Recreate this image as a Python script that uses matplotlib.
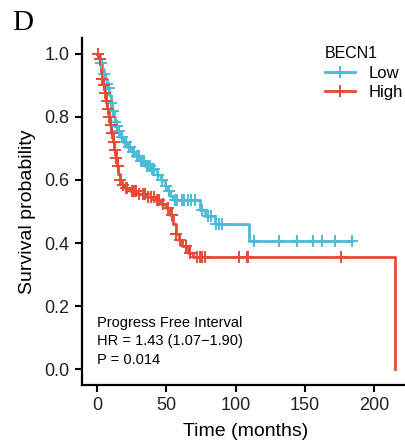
import numpy as np
import matplotlib
matplotlib.use('Agg')
import matplotlib.pyplot as plt
from matplotlib.lines import Line2D

# Kaplan-Meier step points (months, survival)
low_times = [0, 2, 3, 4, 5, 6, 7, 8, 9, 10, 11, 12, 13, 14, 15, 17, 19, 22, 25, 28,
             31, 35, 39, 43, 46, 49, 51, 53, 55, 74, 78, 85, 110]
low_surv = [1.0, 0.985, 0.97, 0.95, 0.935, 0.92, 0.905, 0.89, 0.87, 0.845, 0.82, 0.80,
            0.785, 0.77, 0.755, 0.735, 0.72, 0.705, 0.69, 0.675, 0.66, 0.645, 0.635,
            0.615, 0.60, 0.58, 0.565, 0.55, 0.535, 0.505, 0.485, 0.46, 0.408]
low_end = 184
low_censor = [1, 3, 5, 7, 8.5, 10, 11.5, 13, 14.5, 16, 18, 20, 21, 23, 24, 26, 27, 29,
              30, 32, 33, 34, 36, 37, 38, 40, 41, 44, 47, 50, 52, 56, 58, 61, 63, 66,
              68, 71, 76, 80, 82, 86, 88, 90, 113, 131, 144, 156, 162, 172, 184]

high_times = [0, 1.5, 2.5, 3, 3.5, 4.5, 5.5, 6.5, 7.5, 8.5, 9.5, 10.5, 11.5, 12.5, 13.5,
              14.5, 15.5, 16.5, 18, 20, 24, 29, 36, 42, 46, 50, 53, 55, 57, 59, 61, 66,
              69, 215]
high_surv = [1.0, 0.985, 0.965, 0.94, 0.92, 0.90, 0.875, 0.85, 0.825, 0.80, 0.775, 0.75,
             0.72, 0.695, 0.67, 0.645, 0.62, 0.60, 0.585, 0.575, 0.565, 0.555, 0.545,
             0.535, 0.525, 0.51, 0.49, 0.46, 0.43, 0.41, 0.39, 0.37, 0.355, 0.0]
high_end = 215
high_censor = [1, 2, 3.5, 4, 5, 6, 7, 8, 9, 10, 11, 12, 13, 14, 15, 17, 19, 21, 22, 25,
               27, 28, 30, 33, 35, 37, 39, 41, 43, 45, 48, 51, 54, 57, 60, 64, 67, 72,
               74, 76, 78, 102.5, 108, 109, 176]

groups = ['Low', 'High']
colors = {'Low': '#4DBBD5', 'High': '#E64B35'}

annot_lines = ['Progress Free Interval', 'HR = 1.43 (1.07\u22121.90)', 'P = 0.014']


def surv_at(times, surv, t):
    i = np.searchsorted(times, t, side='right') - 1
    return np.asarray(surv)[i]


def main():
    plt.rcParams['font.family'] = ['Liberation Sans', 'DejaVu Sans']
    fig = plt.figure(figsize=(4.05, 4.45), dpi=100)
    ax = fig.add_axes([82 / 405, 60 / 445, 328 / 405, 347 / 445])

    data = {
        'Low': (low_times, low_surv, low_end, low_censor),
        'High': (high_times, high_surv, high_end, high_censor),
    }
    for g in groups:
        t, s, end, cens = data[g]
        tt = list(t) + [end]
        ss = list(s) + [s[-1]]
        ax.step(tt, ss, where='post', color=colors[g], lw=2.0, zorder=3)
        cy = [surv_at(t, s, c) for c in cens]
        ax.plot(cens, cy, ls='none', marker='+', ms=9, mew=1.4,
                color=colors[g], zorder=4)

    ax.set_xlim(-10.75, 225.75)
    ax.set_ylim(-0.05, 1.05)
    ax.set_xticks([0, 50, 100, 150, 200])
    ax.set_yticks([0.0, 0.2, 0.4, 0.6, 0.8, 1.0])
    ax.set_yticklabels(['0.0', '0.2', '0.4', '0.6', '0.8', '1.0'])
    for sp in ['top', 'right']:
        ax.spines[sp].set_visible(False)
    for sp in ['left', 'bottom']:
        ax.spines[sp].set_linewidth(1.6)
    ax.tick_params(axis='both', labelsize=13, width=1.5, length=5, pad=4,
                   colors='black', labelcolor='#222222')
    ax.set_xlabel('Time (months)', fontsize=14, labelpad=6)
    ax.set_ylabel('Survival probability', fontsize=14, labelpad=6)

    for i, line in enumerate(annot_lines):
        ax.text(0, 0.148 - i * 0.06, line, fontsize=10.5, va='center', ha='left',
                color='black')

    handles = [Line2D([0], [0], color=colors[g], lw=2.0, marker='+', ms=9, mew=1.4)
               for g in groups]
    leg = ax.legend(handles, groups, title='BECN1', loc='upper left',
                    bbox_to_anchor=(0.72, 0.995), frameon=False, fontsize=12,
                    title_fontsize=11.5, handlelength=1.8, labelspacing=0.25,
                    handletextpad=0.8, borderaxespad=0)
    leg._legend_box.align = 'left'

    fig.text(12 / 405, 1 - 23 / 445, 'D', fontsize=21, va='center', ha='left',
             family='Liberation Serif')

    fig.savefig('out.png', dpi=100)


if __name__ == "__main__":
    main()
